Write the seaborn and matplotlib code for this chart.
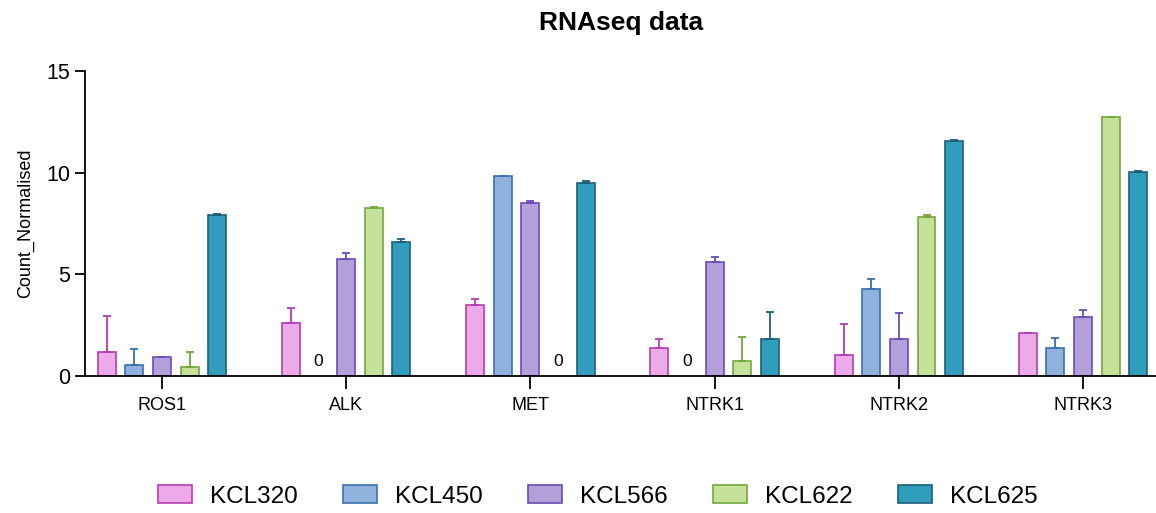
import pandas as pd
import seaborn as sns
import matplotlib.pyplot as plt

genes = ['ROS1', 'ALK', 'MET', 'NTRK1', 'NTRK2', 'NTRK3']
lines = ['KCL320', 'KCL450', 'KCL566', 'KCL622', 'KCL625']

# mean values per cell line
kcl320 = [1.20, 2.60, 3.51, 1.36, 1.02, 2.10]
kcl450 = [0.53, 0.0, 9.82, 0.0, 4.29, 1.40]
kcl566 = [0.92, 5.75, 8.49, 5.62, 1.82, 2.89]
kcl622 = [0.46, 8.26, 0.0, 0.76, 7.82, 12.73]
kcl625 = [7.92, 6.59, 9.50, 1.84, 11.57, 10.05]

# upper error bars
kcl320_err = [1.76, 0.77, 0.30, 0.46, 1.54, 0.0]
kcl450_err = [0.82, 0.0, 0.03, 0.0, 0.46, 0.49]
kcl566_err = [0.03, 0.28, 0.10, 0.23, 1.30, 0.35]
kcl622_err = [0.74, 0.07, 0.0, 1.16, 0.08, 0.03]
kcl625_err = [0.05, 0.13, 0.08, 1.33, 0.03, 0.05]

fills = ['#EDAAEB', '#8FB1DB', '#B3A0DB', '#C6E29A', '#319DBC']
edges = ['#B43DB0', '#3A6FB0', '#6A4CB5', '#72A83E', '#1D5F78']

values = [kcl320, kcl450, kcl566, kcl622, kcl625]
errors = [kcl320_err, kcl450_err, kcl566_err, kcl622_err, kcl625_err]

rows = []
for name, vals in zip(lines, values):
    for g, v in zip(genes, vals):
        rows.append({'gene': g, 'line': name, 'value': v})
df = pd.DataFrame(rows)

sns.set_style('ticks')
plt.rcParams['font.family'] = ['Liberation Sans', 'DejaVu Sans']
plt.rcParams['text.color'] = 'black'
plt.rcParams['axes.labelcolor'] = 'black'
plt.rcParams['xtick.color'] = 'black'
plt.rcParams['ytick.color'] = 'black'

fig = plt.figure(figsize=(11.56, 5.13), dpi=100)
ax = fig.add_axes([0.0735, 0.267, 0.9256, 0.5945])

sns.barplot(data=df, x='gene', y='value', hue='line', order=genes, hue_order=lines,
            palette=fills, saturation=1, width=0.75, gap=0.35, errorbar=None,
            ax=ax, legend=False)

bar_conts = list(ax.containers)
for i, cont in enumerate(bar_conts):
    xs, ys, es = [], [], []
    for bar, v, e in zip(cont.patches, values[i], errors[i]):
        bar.set_edgecolor(edges[i])
        bar.set_linewidth(1.2)
        xc = bar.get_x() + bar.get_width() / 2
        if v == 0:
            bar.set_linewidth(0)
            ax.annotate('0', (xc, 0), xytext=(0, 5), textcoords='offset points',
                        ha='center', va='bottom', fontsize=12.5)
            continue
        xs.append(xc)
        ys.append(v)
        es.append(e)
    ax.errorbar(xs, ys, yerr=[[0] * len(es), es], fmt='none', ecolor=edges[i],
                elinewidth=1.3, capsize=3, capthick=1.3, zorder=1)

ax.set_xlim(-0.418, 5.39)
ax.set_ylim(0, 15)
ax.set_yticks([0, 5, 10, 15])
ax.set_xlabel('')
ax.set_ylabel('Count_Normalised', fontsize=13, labelpad=9)
ax.tick_params(axis='y', labelsize=15.5, length=7, width=1.3)
ax.tick_params(axis='x', labelsize=13, length=9, width=1.3, pad=6)
for s in ['left', 'bottom']:
    ax.spines[s].set_linewidth(1.3)
    ax.spines[s].set_color('black')
sns.despine(ax=ax)

fig.text(0.537, 0.955, 'RNAseq data', ha='center', va='center', fontsize=19, fontweight='bold')

handles = [plt.Rectangle((0, 0), 1, 1, facecolor=f, edgecolor=e, linewidth=1.2)
           for f, e in zip(fills, edges)]
fig.legend(handles, lines, loc='center', bbox_to_anchor=(598 / 1156, 1 - 496.5 / 513),
           ncol=5, frameon=False, fontsize=17.5, handlelength=1.4, handleheight=0.72,
           handletextpad=0.75, columnspacing=1.85)

plt.savefig('out.png', dpi=100)
